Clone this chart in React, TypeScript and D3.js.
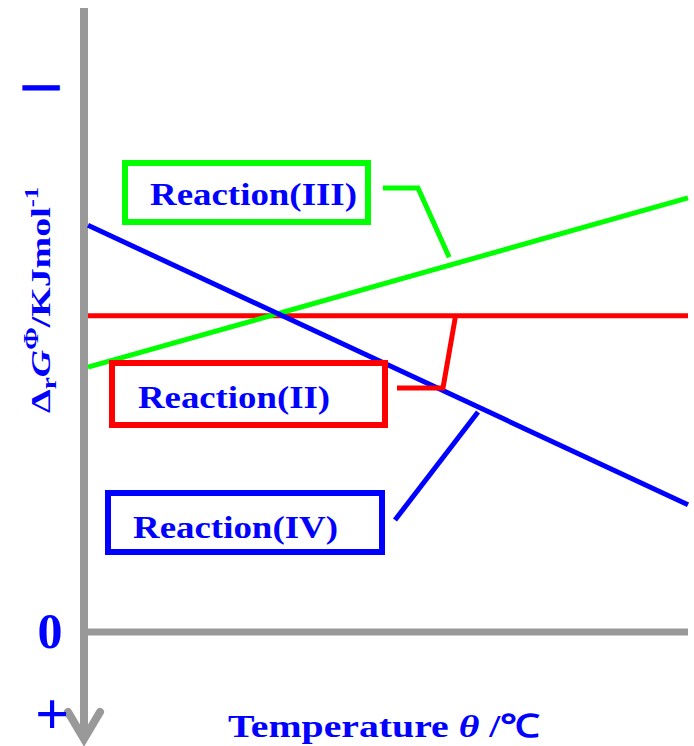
import React from 'react';
import * as d3 from 'd3';

// temperature (arbitrary units) at the two ends of each line
const temps = [0, 100];
// ΔrG values (arbitrary units, negative = upward)
const reactionII = [-5.79, -5.79];
const reactionIII = [-4.85, -7.95];
const reactionIV = [-7.45, -2.33];
const seriesNames = ['Reaction(II)', 'Reaction(III)', 'Reaction(IV)'];
const seriesColors = ['#ff0000', '#00ff00', '#0000ff'];
// sign markers on the vertical axis
const yTicks = [-10, 0, 1.55];
const yTickLabels = ['\u2014', '0', '+'];
// where each leader meets its line (temperature)
const leaderTemps = [61.2, 60.2, 65];

const W = 694;
const H = 746;
const FONT = '"Liberation Serif", "Times New Roman", serif';

// label boxes, in pixels
const boxes = [
  { x: 112, y: 363, w: 273, h: 62, tx: 138, base: 408, tlen: 192, from: [[397, 388], [443, 388]], dy: 2 },
  { x: 125, y: 163, w: 243, h: 59, tx: 150, base: 205, tlen: 207, from: [[383, 188], [418, 188]], dy: -8 },
  { x: 108, y: 493, w: 274, h: 59, tx: 133, base: 538, tlen: 205, from: [[395, 520]], dy: 5 },
];

// tick text styling
const tickStyle = [
  { x: 41, dy: 10, size: 34, stroke: 3 },
  { x: 50, dy: 16, size: 50, stroke: 0 },
  { x: 52, dy: 17, size: 60, stroke: 0 },
];

export default function App() {
  const x = d3.scaleLinear().domain([0, 100]).range([88, 688]);
  const y = d3.scaleLinear().domain([-10, 0]).range([86, 632]);
  const series = [reactionII, reactionIII, reactionIV];
  const line = d3.line<[number, number]>().x(d => x(d[0])).y(d => y(d[1]));

  const axisX = 84;
  const tipY = 741;

  return (
    <svg width={W} height={H} style={{ position: 'absolute', left: 0, top: 0, background: '#fff' }}>
      {/* axes */}
      <line x1={axisX} x2={axisX} y1={8} y2={tipY - 2} stroke="#999" strokeWidth={8} />
      <line x1={axisX + 4} x2={x(100)} y1={y(0)} y2={y(0)} stroke="#999" strokeWidth={7} />
      <path
        d={`M${axisX - 16},${tipY - 29} L${axisX},${tipY - 2} L${axisX + 16},${tipY - 29}`}
        fill="none" stroke="#999" strokeWidth={8} strokeLinecap="round" strokeLinejoin="miter"
      />

      {/* sign ticks */}
      {yTicks.map((v, i) => (
        <text key={i} x={tickStyle[i].x} y={y(v) + tickStyle[i].dy}
          textAnchor="middle" fontFamily={FONT} fontWeight="bold"
          fontSize={tickStyle[i].size} fill="#0000ff"
          stroke={tickStyle[i].stroke ? '#0000ff' : 'none'} strokeWidth={tickStyle[i].stroke}>
          {yTickLabels[i]}
        </text>
      ))}

      {/* reaction lines */}
      {series.map((s, i) => (
        <path key={i} d={line(temps.map((t, j) => [t, s[j]]) as [number, number][]) || ''}
          fill="none" stroke={seriesColors[i]} strokeWidth={5} />
      ))}

      {/* label boxes and leaders */}
      {boxes.map((b, i) => {
        const at = d3.scaleLinear().domain(temps).range(series[i]);
        const t = leaderTemps[i];
        const end: [number, number] = [x(t), y(at(t)) + b.dy];
        const pts = [...b.from, end];
        return (
          <g key={i}>
            <rect x={b.x} y={b.y} width={b.w} height={b.h} fill="#fff" stroke={seriesColors[i]} strokeWidth={6} />
            <text x={b.tx} y={b.base} fontFamily={FONT} fontWeight="bold" fontSize={32} fill="#0000ff"
              textLength={b.tlen} lengthAdjust="spacingAndGlyphs">
              {seriesNames[i]}
            </text>
            <polyline points={pts.map(p => p.join(',')).join(' ')} fill="none" stroke={seriesColors[i]} strokeWidth={5} />
          </g>
        );
      })}

      {/* y label */}
      <text transform="translate(50,413) rotate(-90)" fontFamily={FONT} fontWeight="bold" fontSize={28} fill="#0000ff"
        textLength={226} lengthAdjust="spacingAndGlyphs">
        Δ<tspan fontSize={20} dy={6}>r</tspan>
        <tspan fontStyle="italic" dy={-6}>G</tspan>
        <tspan fontSize={20} dy={-12}>Φ</tspan>
        <tspan dy={12}>/KJmol</tspan>
        <tspan fontSize={18} dy={-12}>-1</tspan>
      </text>

      {/* x label */}
      <text x={228} y={737} fontFamily={FONT} fontWeight="bold" fontSize={32} fill="#0000ff"
        textLength={312} lengthAdjust="spacingAndGlyphs">
        Temperature  <tspan fontStyle="italic">θ</tspan> /℃
      </text>
    </svg>
  );
}
